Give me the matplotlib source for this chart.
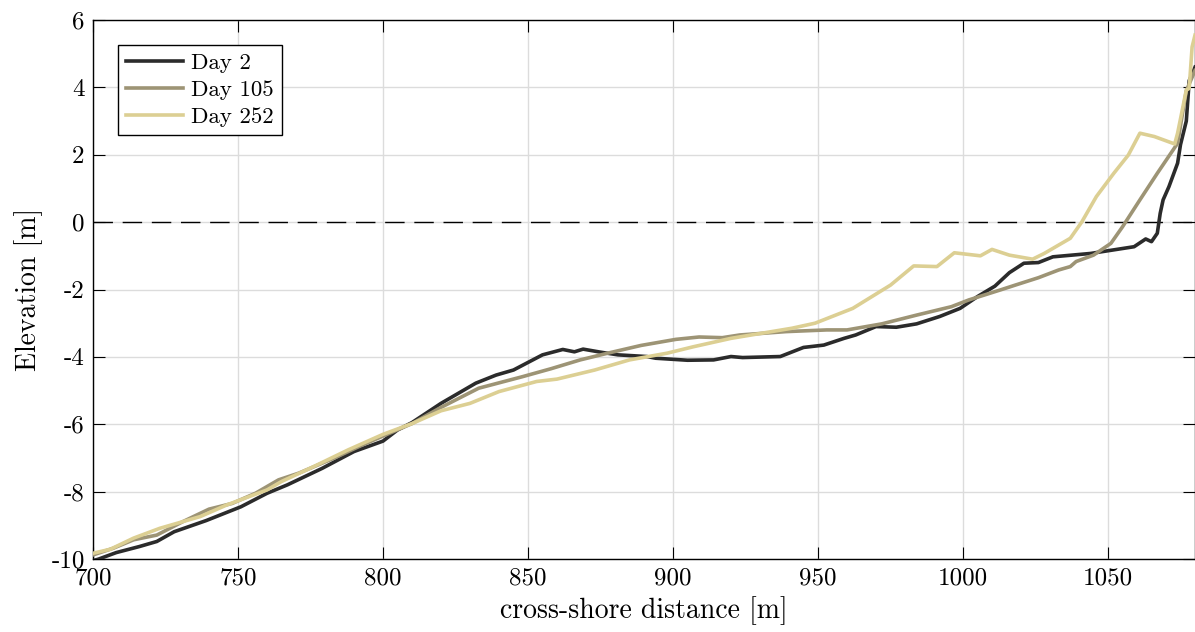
import matplotlib
matplotlib.use("Agg")
import matplotlib.pyplot as plt

plt.rcParams["font.family"] = "serif"
plt.rcParams["font.serif"] = ["cmr10", "DejaVu Serif"]
plt.rcParams["mathtext.fontset"] = "cm"
plt.rcParams["axes.unicode_minus"] = False
plt.rcParams["axes.formatter.use_mathtext"] = False

# Beach profiles: cross-shore distance [m] vs elevation [m]
x_day2 = [700, 702, 708, 716, 722, 728, 739, 751, 760, 767, 779, 790, 800, 805,
          810, 820, 825, 832, 839, 845, 855, 862, 866, 869, 875, 881, 891, 894,
          905, 914, 920, 924, 937, 945, 952, 959, 963, 970, 977, 984, 992, 999,
          1005, 1011, 1016, 1021, 1026, 1031, 1044, 1059, 1063, 1065, 1067,
          1068, 1069, 1071, 1074, 1075, 1077, 1078, 1080]
y_day2 = [-10.05, -10.0, -9.81, -9.63, -9.48, -9.19, -8.86, -8.45, -8.05, -7.8,
          -7.31, -6.81, -6.5, -6.17, -5.95, -5.38, -5.13, -4.78, -4.54, -4.39,
          -3.94, -3.78, -3.85, -3.77, -3.86, -3.94, -3.99, -4.04, -4.1, -4.09,
          -3.99, -4.02, -3.99, -3.72, -3.65, -3.45, -3.35, -3.1, -3.12, -3.02,
          -2.8, -2.56, -2.21, -1.9, -1.5, -1.22, -1.2, -1.03, -0.93, -0.73,
          -0.5, -0.58, -0.33, 0.26, 0.66, 1.05, 1.75, 2.3, 3.0, 4.2, 4.6]

x_day105 = [700, 707, 714, 722, 731, 740, 748, 756, 764, 771, 783, 792, 800,
            810, 820, 833, 848, 858, 868, 878, 889, 901, 909, 917, 923, 939,
            953, 960, 972, 984, 996, 1002, 1013, 1018, 1026, 1033, 1037, 1039,
            1045, 1051, 1055, 1061, 1067, 1074, 1077, 1080]
y_day105 = [-9.88, -9.68, -9.43, -9.29, -8.89, -8.52, -8.35, -8.05, -7.65,
            -7.45, -7.01, -6.65, -6.35, -5.98, -5.5, -4.93, -4.59, -4.35, -4.09,
            -3.88, -3.66, -3.48, -3.41, -3.43, -3.35, -3.25, -3.2, -3.2, -3.02,
            -2.76, -2.51, -2.31, -2.01, -1.87, -1.65, -1.42, -1.32, -1.17, -0.98,
            -0.63, -0.14, 0.66, 1.45, 2.34, 3.9, 4.5]

x_day252 = [700, 706, 714, 723, 737, 746, 760, 765, 776, 788, 800, 810, 820,
            830, 840, 853, 860, 873, 879, 885, 898, 907, 920, 941, 949, 962,
            975, 983, 991, 997, 1006, 1010, 1016, 1024, 1028, 1037, 1041, 1046,
            1052, 1057, 1061, 1066, 1073, 1074, 1077, 1078, 1079, 1080]
y_day252 = [-9.83, -9.71, -9.38, -9.09, -8.74, -8.4, -7.95, -7.7, -7.26, -6.76,
            -6.3, -5.98, -5.6, -5.38, -5.03, -4.73, -4.66, -4.39, -4.24, -4.09,
            -3.89, -3.7, -3.45, -3.15, -3.0, -2.56, -1.87, -1.3, -1.32, -0.91,
            -1.0, -0.81, -0.98, -1.1, -0.93, -0.48, 0.01, 0.76, 1.45, 1.99, 2.64,
            2.54, 2.32, 2.64, 3.92, 3.97, 5.2, 5.55]

series_labels = ["Day 2", "Day 105", "Day 252"]
series_colors = ["#2b2b2b", "#9d9475", "#dccf93"]

x_ticks = [700, 750, 800, 850, 900, 950, 1000, 1050]
y_ticks = [-10, -8, -6, -4, -2, 0, 2, 4, 6]

fig = plt.figure(figsize=(11.95, 6.32), dpi=100)
ax = fig.add_axes([93 / 1195, 73 / 632, 1102 / 1195, 539 / 632])

ax.grid(True, color="#dcdcdc", linewidth=1.0)
ax.set_axisbelow(True)

ax.axhline(0, color="black", linewidth=1.0, dashes=(14, 7), zorder=2)

for xs, ys, lab, col in zip([x_day2, x_day105, x_day252],
                            [y_day2, y_day105, y_day252],
                            series_labels, series_colors):
    ax.plot(xs, ys, color=col, linewidth=2.6, label=lab, zorder=3,
            solid_joinstyle="round")

ax.set_xlim(700, 1080)
ax.set_ylim(-10, 6)
ax.set_xticks(x_ticks)
ax.set_yticks(y_ticks)
ax.tick_params(direction="in", length=8.5, width=0.8, top=True, right=True,
               labelsize=18, pad=6)
for s in ax.spines.values():
    s.set_linewidth(1.0)

ax.set_xlabel("cross-shore distance [m]", fontsize=20, labelpad=5)
ax.set_ylabel("Elevation [m]", fontsize=20, labelpad=6)

leg = ax.legend(loc="upper left", bbox_to_anchor=(25 / 1102, 1 - 25 / 539),
                borderaxespad=0, fontsize=16.5, frameon=True, fancybox=False,
                edgecolor="black", framealpha=1, handlelength=2.5,
                handletextpad=0.35, labelspacing=0.3, borderpad=0.35)
leg.get_frame().set_linewidth(1.0)

fig.savefig("out.png", dpi=100)
